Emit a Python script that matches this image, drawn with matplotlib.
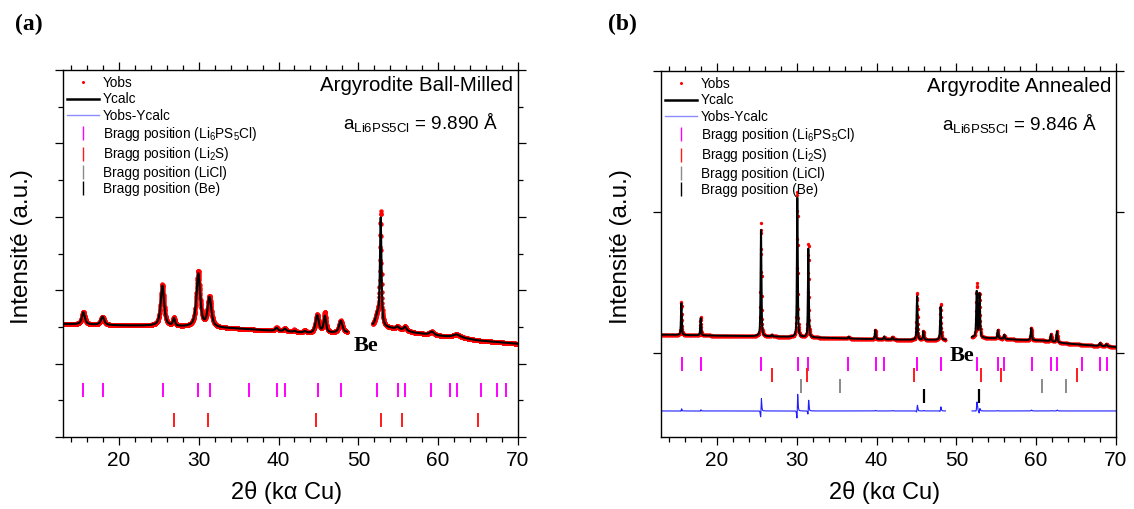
import numpy as np
import matplotlib
matplotlib.use("Agg")
import matplotlib.pyplot as plt
from matplotlib.lines import Line2D
from matplotlib.ticker import MultipleLocator

plt.rcParams['font.family'] = ['Liberation Sans', 'DejaVu Sans']
plt.rcParams['mathtext.fontset'] = 'custom'
plt.rcParams['mathtext.rm'] = 'Liberation Sans'
plt.rcParams['mathtext.default'] = 'regular'

# ---------------- data ----------------
step = 0.02
two_theta = np.arange(13.0, 70.0 + step / 2, step)

# Panel (a) ball-milled : background points and peak list (pos, height, FWHM)
a_bg_x = [13, 20, 24, 28, 34, 38, 42, 44, 48.6, 51.8, 53.5, 55, 57, 60, 63, 65, 70]
a_bg_y = [3.08, 3.04, 3.03, 3.0, 2.96, 2.91, 2.86, 2.82, 2.84, 3.0, 2.97, 2.94, 2.84, 2.76, 2.70, 2.63, 2.54]
a_pos = [15.55, 17.95, 25.45, 26.9, 29.95, 31.35, 39.75, 40.8, 42.0, 43.3, 44.85, 45.8, 47.8, 52.39, 52.8, 54.9, 55.85, 59.2, 62.3]
a_calc_h = [0.33, 0.22, 1.1, 0.2, 1.45, 0.8, 0.08, 0.07, 0.03, 0.04, 0.48, 0.45, 0.32, 0.3, 2.9, 0.06, 0.1, 0.09, 0.08]
a_obs_h = [0.34, 0.22, 1.13, 0.22, 1.52, 0.82, 0.09, 0.08, 0.06, 0.06, 0.5, 0.56, 0.33, 0.3, 3.08, 0.06, 0.11, 0.09, 0.08]
a_fwhm = [0.45, 0.5, 0.5, 0.3, 0.55, 0.55, 0.4, 0.4, 0.3, 0.4, 0.5, 0.35, 0.5, 0.6, 0.22, 0.4, 0.4, 0.6, 1.0]
a_excluded = (48.6, 51.8)
a_bragg_li6ps5cl = [15.55, 17.97, 25.49, 29.96, 31.38, 36.35, 39.78, 40.82, 44.92, 47.8, 52.39,
                    54.94, 55.82, 59.12, 61.54, 62.33, 65.42, 67.39, 68.47]
a_bragg_li2s = [26.91, 31.21, 44.67, 52.89, 55.48, 64.97]

# Panel (b) annealed
b_bg_x = [13, 20, 25, 30, 35, 40, 45, 48.65, 51.95, 55, 58, 61, 63.5, 67, 70]
b_bg_y = [0.127, 0.12, 0.116, 0.11, 0.102, 0.094, 0.09, 0.09, 0.108, 0.1, 0.09, 0.085, 0.066, 0.05, 0.04]
b_pos = [15.55, 17.97, 25.53, 26.9, 30.08, 31.46, 36.5, 39.85, 40.95, 42.0, 45.08, 45.87, 48.02,
         52.55, 52.9, 55.2, 56.0, 59.38, 61.85, 62.6, 68.0, 68.8]
b_calc_h = [0.23, 0.125, 0.77, 0.012, 0.99, 0.63, 0.012, 0.065, 0.02, 0.015, 0.31, 0.06, 0.235,
            0.33, 0.31, 0.06, 0.03, 0.085, 0.05, 0.075, 0.02, 0.015]
b_obs_pos = [15.553, 17.973, 25.538, 26.9, 30.088, 31.467, 36.5, 39.852, 40.95, 42.0, 45.087, 45.873, 48.026,
             52.558, 52.906, 55.2, 56.0, 59.383, 61.852, 62.603, 68.0, 68.8]
b_obs_h = [0.24, 0.13, 0.805, 0.012, 1.04, 0.67, 0.012, 0.068, 0.02, 0.018, 0.335, 0.062, 0.255,
           0.38, 0.31, 0.062, 0.03, 0.09, 0.052, 0.08, 0.02, 0.015]
b_fwhm = [0.12, 0.12, 0.13, 0.15, 0.13, 0.13, 0.15, 0.15, 0.15, 0.15, 0.14, 0.15, 0.14,
          0.15, 0.15, 0.15, 0.15, 0.16, 0.16, 0.16, 0.2, 0.2]
b_excluded = (48.65, 51.95)
b_bragg_li6ps5cl = [15.59, 18.0, 25.53, 30.13, 31.46, 36.47, 39.9, 40.98, 45.1, 48.05, 52.6,
                    55.27, 56.0, 59.45, 61.87, 62.6, 65.8, 68.05, 68.85]
b_bragg_li2s = [26.95, 31.26, 44.74, 53.06, 55.6, 65.17]
b_bragg_licl = [30.54, 35.47, 60.7, 63.7]
b_bragg_be = [45.92, 52.85]
b_diff_offset = -0.415

legend_labels = ['Yobs', 'Ycalc', 'Yobs-Ycalc',
                 'Bragg position (Li$_6$PS$_5$Cl)', 'Bragg position (Li$_2$S)',
                 'Bragg position (LiCl)', 'Bragg position (Be)']


def pattern(x, bgx, bgy, pos, h, w, eta):
    y = np.interp(x, bgx, bgy)
    for p, hh, ww in zip(pos, h, w):
        d = 2.0 * (x - p) / ww
        lor = 1.0 / (1.0 + d * d)
        gau = np.exp(-np.log(2.0) * d * d)
        y = y + hh * (eta * lor + (1 - eta) * gau)
    return y


def mask(x, y, excl):
    y = y.copy()
    y[(x > excl[0]) & (x < excl[1])] = np.nan
    return y


a_calc = mask(two_theta, pattern(two_theta, a_bg_x, a_bg_y, a_pos, a_calc_h, a_fwhm, 0.75), a_excluded)
a_obs = mask(two_theta, pattern(two_theta, a_bg_x, a_bg_y, a_pos, a_obs_h, a_fwhm, 0.75), a_excluded)
b_calc = mask(two_theta, pattern(two_theta, b_bg_x, b_bg_y, b_pos, b_calc_h, b_fwhm, 0.5), b_excluded)
b_obs = mask(two_theta, pattern(two_theta, b_bg_x, b_bg_y, b_obs_pos, b_obs_h, b_fwhm, 0.5), b_excluded)
b_diff = b_obs - b_calc + b_diff_offset

MAG = '#ff00ff'
RED = '#ff1a1a'
GREY = '#8a8a8a'

fig = plt.figure(figsize=(11.34, 5.09), dpi=100)
W, H = 1134.0, 509.0
axA = fig.add_axes([63 / W, 1 - 437 / H, 455 / W, 367 / H])
axB = fig.add_axes([661 / W, 1 - 437 / H, 455 / W, 366 / H])


def style(ax):
    for s in ax.spines.values():
        s.set_linewidth(1.0)
    ax.set_xlim(13, 70)
    ax.xaxis.set_major_locator(MultipleLocator(10))
    ax.xaxis.set_minor_locator(MultipleLocator(2))
    ax.tick_params(axis='both', which='both', direction='out', top=True, right=True, width=0.9)
    ax.tick_params(axis='both', which='major', length=6)
    ax.tick_params(axis='both', which='minor', length=3.5)
    ax.tick_params(axis='x', labelsize=15, pad=4)
    ax.tick_params(axis='y', labelleft=False)


def legend(ax):
    handles = [
        Line2D([], [], marker='o', ms=2.2, color='red', ls='None', mew=0),
        Line2D([], [], color='black', lw=1.8),
        Line2D([], [], color='#8c8cff', lw=1.0),
        Line2D([], [], marker='|', ms=10, mew=1.0, color=MAG, ls='None'),
        Line2D([], [], marker='|', ms=10, mew=1.0, color=RED, ls='None'),
        Line2D([], [], marker='|', ms=10, mew=1.0, color=GREY, ls='None'),
        Line2D([], [], marker='|', ms=10, mew=1.0, color='black', ls='None'),
    ]
    ax.legend(handles, legend_labels, loc='upper left', bbox_to_anchor=(-0.004, 1.0), frameon=False,
              fontsize=9.8, handlelength=2.3, handletextpad=0.3, labelspacing=0.17,
              borderaxespad=0.25, borderpad=0.2)


# ---- panel (a) ----
style(axA)
axA.set_ylim(0, 10)
axA.yaxis.set_major_locator(MultipleLocator(2))
axA.yaxis.set_minor_locator(MultipleLocator(1))
axA.plot(two_theta, a_obs, 'o', color='red', ms=3.2, mew=0)
axA.plot(two_theta, a_calc, color='black', lw=1.5)
axA.plot(a_bragg_li6ps5cl, [1.28] * len(a_bragg_li6ps5cl), '|', color=MAG, ms=10, mew=1.4)
axA.plot(a_bragg_li2s, [0.45] * len(a_bragg_li2s), '|', color=RED, ms=10, mew=1.4)
legend(axA)
axA.text(0.988, 0.959, 'Argyrodite Ball-Milled', transform=axA.transAxes, ha='right', va='center', fontsize=14.8)
axA.text(0.956, 0.856, 'a$_{Li6PS5Cl}$ = 9.890 Å', transform=axA.transAxes, ha='right', va='center', fontsize=13.6)
axA.text(50.97, 2.48, 'Be', ha='center', va='center', fontsize=16, fontweight='bold', family='Liberation Serif')

# ---- panel (b) ----
style(axB)
axB.set_ylim(-0.6, 2.0)
axB.yaxis.set_major_locator(MultipleLocator(1))
axB.yaxis.set_minor_locator(plt.NullLocator())
axB.plot(two_theta, b_obs, 'o', color='red', ms=2.4, mew=0)
axB.plot(two_theta, b_calc, color='black', lw=1.4)
axB.plot(two_theta, b_diff, color='#1f1fff', lw=0.8)
axB.plot(b_bragg_li6ps5cl, [-0.079] * len(b_bragg_li6ps5cl), '|', color=MAG, ms=10, mew=1.4)
axB.plot(b_bragg_li2s, [-0.162] * len(b_bragg_li2s), '|', color=RED, ms=10, mew=1.4)
axB.plot(b_bragg_licl, [-0.239] * len(b_bragg_licl), '|', color=GREY, ms=10, mew=1.4)
axB.plot(b_bragg_be, [-0.31] * len(b_bragg_be), '|', color='black', ms=10, mew=1.6)
legend(axB)
axB.text(0.9905, 0.959, 'Argyrodite Annealed', transform=axB.transAxes, ha='right', va='center', fontsize=14.8)
axB.text(0.958, 0.856, 'a$_{Li6PS5Cl}$ = 9.846 Å', transform=axB.transAxes, ha='right', va='center', fontsize=13.6)
axB.text(50.76, -0.023, 'Be', ha='center', va='center', fontsize=16, fontweight='bold', family='Liberation Serif')

# axis labels and panel letters
for xc, yc in [(22.5, 247), (620.5, 247)]:
    fig.text(xc / W, 1 - yc / H, 'Intensité (a.u.)', rotation=90, ha='center', va='center', fontsize=17.5)
for xc in [287, 885]:
    fig.text(xc / W, 1 - 493 / H, '2θ (kα Cu)', ha='center', va='center', fontsize=17)
fig.text(29 / W, 1 - 24 / H, '(a)', ha='center', va='center', fontsize=17, fontweight='bold', family='Liberation Serif')
fig.text(622 / W, 1 - 24 / H, '(b)', ha='center', va='center', fontsize=17, fontweight='bold', family='Liberation Serif')

fig.savefig('out.png', dpi=100)
